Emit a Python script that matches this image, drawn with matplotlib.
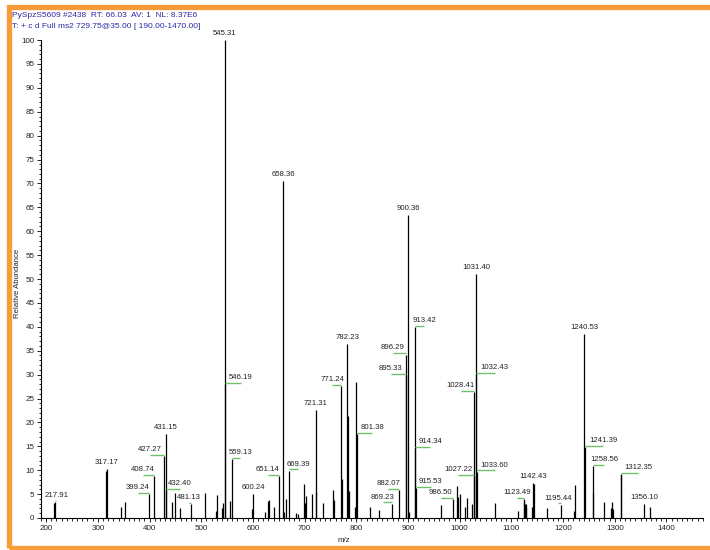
import matplotlib
matplotlib.use('Agg')
import matplotlib.pyplot as plt
from matplotlib.patches import Rectangle
from matplotlib.ticker import MultipleLocator

# spectrum: m/z and relative abundance of each stick
mz = [216.0, 217.91, 314.9, 317.17, 344.6, 352.8, 399.24, 408.74, 427.27, 431.15,
      432.40, 443.5, 448.5, 459.5, 481.13, 507.5, 528.5, 530.5, 540.5, 542.5,
      545.31, 546.19, 556.0, 559.13, 598.5, 600.24, 623.5, 629.0, 631.0, 641.0,
      651.14, 658.36, 659.5, 664.5, 669.39, 682.5, 687.5, 699.0, 700.5, 702.0,
      715.0, 721.31, 722.5, 735.5, 755.5, 757.5, 771.24, 773.0, 782.23, 783.5,
      785.0, 796.5, 800.2, 801.38, 826.5, 844.5, 869.23, 882.07, 895.33, 896.29,
      900.36, 902.0, 913.42, 914.34, 915.53, 964.5, 986.50, 995.5, 997.0, 1000.0,
      1011.0, 1015.0, 1024.0, 1027.22, 1028.41, 1031.40, 1032.43, 1033.60, 1068.0, 1112.0,
      1123.49, 1124.5, 1126.0, 1127.5, 1129.0, 1139.0, 1142.43, 1143.8, 1168.0, 1195.44,
      1220.5, 1222.5, 1240.53, 1241.39, 1257.5, 1258.56, 1278.5, 1292.8, 1294.0, 1296.5,
      1311.2, 1312.35, 1356.10, 1367.5]
abund = [3.2, 3.3, 9.8, 10.2, 2.4, 3.3, 5.0, 8.7, 13.0, 17.5,
         5.9, 3.3, 5.2, 2.1, 2.9, 5.3, 1.4, 4.9, 2.1, 3.1,
         100.0, 28.0, 3.5, 12.4, 1.8, 5.0, 1.3, 3.6, 3.8, 2.4,
         8.8, 70.5, 1.3, 4.0, 9.9, 1.1, 0.9, 7.1, 3.2, 4.5,
         5.0, 22.6, 5.4, 3.2, 5.8, 3.8, 27.6, 8.1, 36.4, 21.4,
         5.7, 2.2, 28.4, 17.6, 2.2, 1.6, 3.0, 5.9, 29.9, 34.2,
         63.4, 1.3, 40.0, 14.6, 6.2, 2.7, 3.9, 6.6, 4.3, 5.0,
         2.2, 4.1, 2.9, 8.7, 26.4, 51.0, 30.1, 9.7, 3.1, 1.4,
         4.0, 3.6, 3.0, 2.9, 2.4, 2.2, 7.3, 7.2, 2.1, 2.8,
         1.5, 7.0, 38.4, 14.9, 5.2, 10.9, 3.3, 2.0, 3.3, 1.8,
         8.9, 9.1, 2.9, 2.2]

# labelled peaks
label_mz = [217.91, 317.17, 399.24, 408.74, 427.27, 431.15, 432.40, 481.13, 545.31, 546.19,
            559.13, 600.24, 651.14, 658.36, 669.39, 721.31, 771.24, 782.23, 801.38, 869.23,
            882.07, 895.33, 896.29, 900.36, 913.42, 914.34, 915.53, 986.50, 1027.22, 1028.41,
            1031.40, 1032.43, 1033.60, 1123.49, 1142.43, 1195.44, 1240.53, 1241.39, 1258.56,
            1312.35, 1356.10]
# horizontal shift of each label (m/z units), 0 = centred on the stick
label_shift = [2, 0, -22, -21, -27, 0, 27, -5, 0, 30,
               16, 0, -22, 0, 18, 0, -18, 0, 29, -18,
               -20, -29, -26, 0, 18, 29, 28, -23, -30, -26,
               0, 35, 34, -13, 0, -5, 0, 36, 21,
               33, 0]

header1 = 'PySpzS5609 #2438  RT: 66.03  AV: 1  NL: 8.37E6'
header2 = 'T: + c d Full ms2 729.75@35.00 [ 190.00-1470.00]'

plt.rcParams['font.family'] = ['Liberation Sans', 'DejaVu Sans']

fig = plt.figure(figsize=(7.1, 5.5), dpi=100)
fig.patches.append(Rectangle((0.012, 0.003), 1.2, 0.985, transform=fig.transFigure,
                             fill=False, edgecolor='#f99b36', linewidth=3.8, zorder=0))

ax = fig.add_axes([0.0577, 0.0582, 0.932, 0.869])
ax.vlines(mz, 0, abund, color='black', linewidth=0.9)

lookup = dict(zip(mz, abund))
for m, s in zip(label_mz, label_shift):
    h = lookup[m]
    if s != 0:
        ax.plot([m, m + s], [h + 0.25, h + 0.25], color='#6cc36c', linewidth=1.0,
                solid_capstyle='butt')
    ax.annotate('%.2f' % m, (m + s, h), xytext=(0, 2.2), textcoords='offset points',
                ha='center', va='bottom', fontsize=5.6, color='#222222')

ax.set_xlim(190, 1470)
ax.set_ylim(0, 100)
ax.xaxis.set_major_locator(MultipleLocator(100))
ax.xaxis.set_minor_locator(MultipleLocator(10))
ax.yaxis.set_major_locator(MultipleLocator(5))
ax.yaxis.set_minor_locator(MultipleLocator(1))
ax.tick_params(which='major', length=3.2, width=0.7, labelsize=5.8, pad=1.5, colors='#222222')
ax.tick_params(which='minor', length=1.8, width=0.6)
ax.set_xticks(range(200, 1401, 100))
for sp in ['top', 'right']:
    ax.spines[sp].set_visible(False)
for sp in ['left', 'bottom']:
    ax.spines[sp].set_linewidth(0.8)

fig.text(0.025, 0.485, 'Relative Abundance', rotation=90, ha='center', va='center',
         fontsize=5.6, color='#222222')
fig.text(0.484, 0.018, 'm/z', ha='center', va='center', fontsize=5.6, color='#222222')
fig.text(0.017, 0.972, header1, ha='left', va='center', fontsize=6.0, color='#2a2aa8')
fig.text(0.017, 0.951, header2, ha='left', va='center', fontsize=6.0, color='#2a2aa8')

fig.savefig('out.png', dpi=100)
